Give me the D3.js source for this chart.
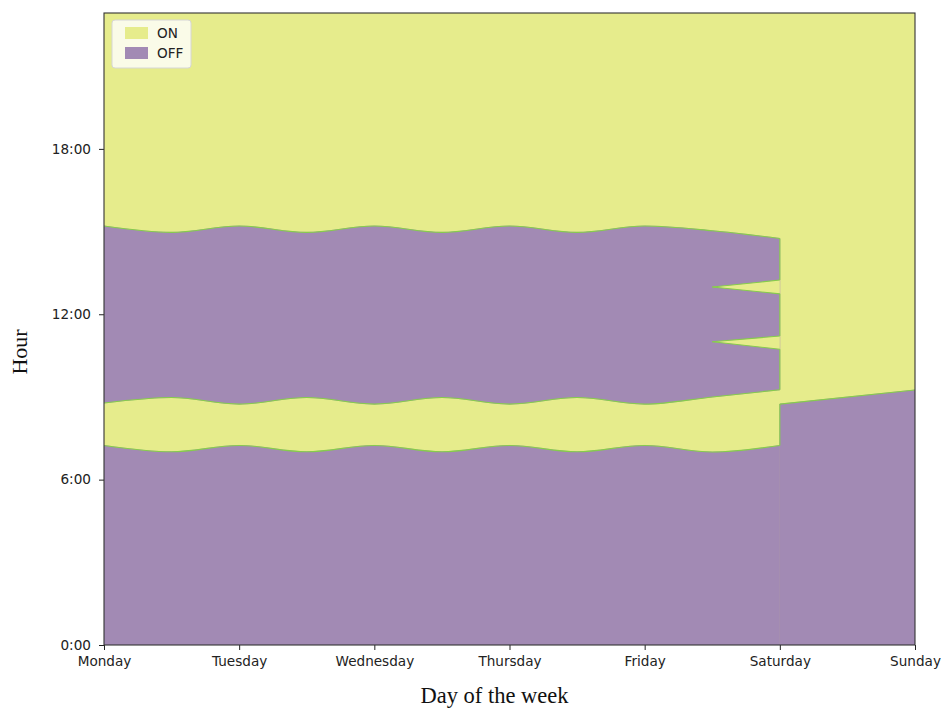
<!DOCTYPE html>
<html><head><meta charset="utf-8">
<script src="https://cdn.jsdelivr.net/npm/d3@7/dist/d3.min.js"></script>
<style>body{margin:0;background:#fff} svg{display:block}</style>
</head><body><svg id="chart" width="941" height="709"></svg>
<script>
// ---- data ----
const days = ["Monday","Tuesday","Wednesday","Thursday","Friday","Saturday","Sunday"];
const hourTicks = [0, 6, 12, 18];
const hourTickLabels = ["0:00","6:00","12:00","18:00"];
const hourMax = 22.93;
const stateNames = ["ON","OFF"];

// weekday schedule sampled every half day, Monday (0) to Saturday (5)
const weekdayPos  = [0, 0.5, 1, 1.5, 2, 2.5, 3, 3.5, 4, 4.5, 5];
const wakeOn      = [7.24, 7.01, 7.24, 7.01, 7.24, 7.01, 7.24, 7.01, 7.24, 7.00, 7.24];   // OFF -> ON
const morningOff  = [8.78, 8.98, 8.74, 8.98, 8.74, 8.98, 8.74, 8.98, 8.74, 9.00, 9.26];   // ON -> OFF
const eveningOn   = [15.20, 14.97, 15.20, 14.97, 15.20, 14.97, 15.20, 14.97, 15.20, 15.03, 14.75]; // OFF -> ON

// Friday afternoon ON breaks (wedges opening towards Saturday)
const breakPos   = [4.5, 5];
const break1Low  = [12.99, 12.74];
const break1High = [12.99, 13.24];
const break2Low  = [11.00, 10.73];
const break2High = [11.00, 11.21];

// weekend
const weekendPos = [5, 6];
const weekendOn  = [8.74, 9.25];

// ---- layout ----
const m = {left: 104, right: 915, top: 13, bottom: 645};
const colON = "#e6ec8c", colOFF = "#a28ab4", colEdge = "#86cc4c";
const tickFont = "'DejaVu Sans', sans-serif";
const serif = "'Liberation Serif', 'Times New Roman', serif";

const svg = d3.select("#chart");
const x = d3.scaleLinear().domain([0, 6]).range([m.left, m.right]);
const y = d3.scaleLinear().domain([0, hourMax]).range([m.bottom, m.top]);

svg.append("defs").append("clipPath").attr("id","plotclip")
  .append("rect").attr("x", x(0)).attr("y", y(hourMax))
  .attr("width", x(6)-x(0)).attr("height", y(0)-y(hourMax));

const plot = svg.append("g").attr("clip-path","url(#plotclip)");

// ON background
plot.append("rect").attr("x", x(0)).attr("y", y(hourMax))
  .attr("width", x(6)-x(0)).attr("height", y(0)-y(hourMax)).attr("fill", colON);

const zip = (xs, a, b) => xs.map((d,i)=>({x:d, lo:a[i], hi:b[i]}));
const area = curve => d3.area().x(d=>x(d.x)).y0(d=>y(d.lo)).y1(d=>y(d.hi)).curve(curve);
const line = curve => d3.line().x(d=>x(d.x)).y(d=>y(d.v)).curve(curve);
const zeros = a => a.map(()=>0);

// OFF areas
const offAreas = [
  {d: zip(weekdayPos, zeros(wakeOn), wakeOn), c: d3.curveMonotoneX},
  {d: zip(weekdayPos, morningOff, eveningOn), c: d3.curveMonotoneX},
  {d: zip(weekendPos, zeros(weekendOn), weekendOn), c: d3.curveLinear}
];
offAreas.forEach(a => plot.append("path").attr("d", area(a.c)(a.d))
  .attr("fill", colOFF).attr("stroke", colOFF).attr("stroke-width", 0.6));

// ON wedges
[[break1Low, break1High],[break2Low, break2High]].forEach(([lo,hi]) =>
  plot.append("path").attr("d", area(d3.curveLinear)(zip(breakPos, lo, hi))).attr("fill", colON));

// boundary lines
const boundaries = [
  {xs: weekdayPos, v: wakeOn, c: d3.curveMonotoneX},
  {xs: weekdayPos, v: morningOff, c: d3.curveMonotoneX},
  {xs: weekdayPos, v: eveningOn, c: d3.curveMonotoneX},
  {xs: breakPos, v: break1Low, c: d3.curveLinear},
  {xs: breakPos, v: break1High, c: d3.curveLinear},
  {xs: breakPos, v: break2Low, c: d3.curveLinear},
  {xs: breakPos, v: break2High, c: d3.curveLinear},
  {xs: weekendPos, v: weekendOn, c: d3.curveLinear}
];
boundaries.forEach(b => plot.append("path")
  .attr("d", line(b.c)(b.xs.map((d,i)=>({x:d, v:b.v[i]}))))
  .attr("fill","none").attr("stroke", colEdge).attr("stroke-width", 1.1));

// vertical Saturday transitions
const last = a => a[a.length-1];
const satEdges = [
  [last(wakeOn), weekendOn[0]],
  [last(morningOff), last(break2Low)],
  [last(break2High), last(break1Low)],
  [last(break1High), last(eveningOn)]
];
satEdges.forEach(([a,b]) => plot.append("line")
  .attr("x1", x(5)).attr("x2", x(5)).attr("y1", y(a)).attr("y2", y(b))
  .attr("stroke", colEdge).attr("stroke-width", 1.1));

// ---- axes ----
const xAxis = d3.axisBottom(x).tickValues(d3.range(7)).tickFormat(i=>days[i])
  .tickSize(5).tickPadding(6).tickSizeOuter(0);
const gx = svg.append("g").attr("transform", `translate(0,${m.bottom})`).call(xAxis);
const yAxis = d3.axisLeft(y).tickValues(hourTicks).tickFormat((d,i)=>hourTickLabels[i])
  .tickSize(5).tickPadding(8).tickSizeOuter(0);
const gy = svg.append("g").attr("transform", `translate(${m.left},0)`).call(yAxis);
[gx, gy].forEach(g => {
  g.select(".domain").remove();
  g.selectAll(".tick line").attr("stroke", "#222").attr("stroke-width", 1);
  g.selectAll(".tick text").attr("fill", "#222").style("font-family", tickFont).style("font-size", "13.6px");
});

// spines
svg.append("rect").attr("x", x(0)).attr("y", y(hourMax))
  .attr("width", x(6)-x(0)).attr("height", y(0)-y(hourMax))
  .attr("fill","none").attr("stroke","#333").attr("stroke-width",1.1);

// axis titles
svg.append("text").attr("x", 494.5).attr("y", 703).attr("text-anchor","middle")
  .style("font-family", serif).style("font-size","22.5px")
  .attr("fill","#111").text("Day of the week");
svg.append("text").attr("transform","translate(27,352) rotate(-90)").attr("text-anchor","middle")
  .style("font-family", serif).style("font-size","22px")
  .attr("fill","#111").text("Hour");

// ---- legend ----
const lg = svg.append("g");
lg.append("rect").attr("x",112).attr("y",20).attr("width",79).attr("height",48).attr("rx",3)
  .attr("fill","rgba(255,255,255,0.8)").attr("stroke","#d6d6d6").attr("stroke-width",1);
const legendColors = [colON, colOFF];
stateNames.forEach((s,i) => {
  lg.append("rect").attr("x",125).attr("y",27+i*20).attr("width",23).attr("height",12).attr("fill",legendColors[i]);
  lg.append("text").attr("x",157).attr("y",38+i*20).text(s)
    .style("font-family",tickFont).style("font-size","13.6px").attr("fill","#222");
});
</script></body></html>
